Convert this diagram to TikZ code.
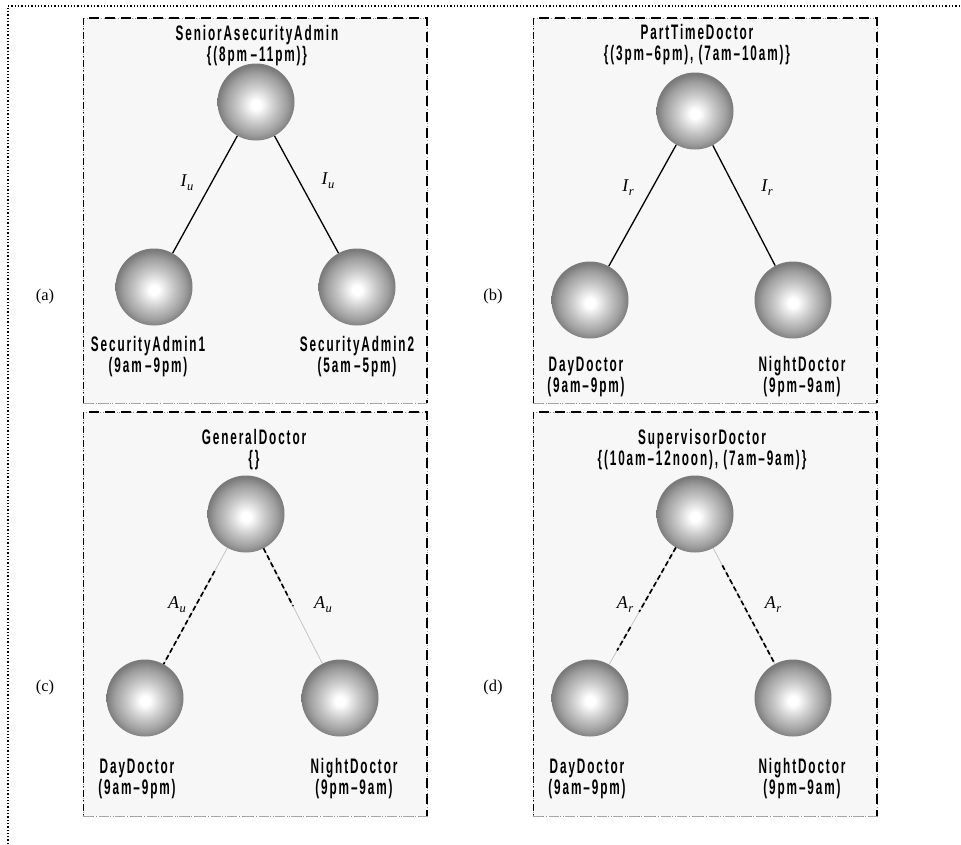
\documentclass[tikz,border=0pt]{standalone}
\usepackage{fontspec}
\usetikzlibrary{calc}
\newfontfamily\lblfont{Liberation Sans Bold}[FakeStretch=0.56,LetterSpace=9]
\newfontfamily\serifface{Liberation Serif}
\definecolor{panelbg}{HTML}{F7F7F7}
\pgfdeclareradialshading{spheregrad}{\pgfpoint{0bp}{-2bp}}{%
  color(0bp)=(white); color(3bp)=(white); color(12bp)=(black!21);
  color(20bp)=(black!38); color(25bp)=(black!52); color(50bp)=(black!52)}
\tikzset{
  sphere/.style={circle, minimum size=77pt, inner sep=0pt, shading=spheregrad},
  nametext/.style={font=\lblfont\fontsize{21}{21}\selectfont, align=center, inner sep=0pt},
  edgetext/.style={font=\serifface\itshape\fontsize{18}{18}\selectfont, inner sep=0pt},
  tagtext/.style={font=\serifface\fontsize{16.5}{16.5}\selectfont, inner sep=0pt},
  solidlink/.style={line width=1.3pt},
  faintlink/.style={draw=black!25, line width=0.7pt},
  dashlink/.style={line width=1.7pt, dash pattern=on 5pt off 3pt},
}
% framed panel: left x, top y, right x, bottom y
\newcommand\panelframe[4]{%
  \fill[panelbg] (#1,#2) rectangle (#3,#4);
  \draw[black!45, line width=0.8pt, dotted] (#1,#2) rectangle (#3,#4);
  \draw[line width=1.6pt, dash pattern=on 10pt off 6pt] (#1+6,#2) -- (#3,#2) -- (#3,#4);
  \draw[line width=0.9pt, dash pattern=on 7pt off 3pt on 1pt off 3pt] (#1,#2) -- (#1,#4);
  \draw[black!35, line width=1pt, dash pattern=on 10pt off 6pt] (#1,#4) -- (#3,#4);
}
\newcommand\sublbl[2]{#1\kern0.5pt\raisebox{-4pt}{\fontsize{12.5}{12.5}\selectfont #2}}
\begin{document}
\begin{tikzpicture}[x=1pt,y=-1pt]
\useasboundingbox (0,0) rectangle (961,844);
\fill[white] (0,0) rectangle (961,844);
% outer frame
\draw[dotted, line width=1.3pt] (8,844) -- (8,6) -- (961,6);

% panels
\panelframe{83}{18}{427}{403}
\panelframe{533}{18}{877}{403}
\panelframe{83}{412}{427}{816}
\panelframe{533}{412}{877}{816}

% panel tags
\node[tagtext] (taga) at (45,297) {(a)};
\node[tagtext] (tagb) at (493,297) {(b)};
\node[tagtext] (tagc) at (45,688) {(c)};
\node[tagtext] (tagd) at (493,688) {(d)};

% (a)
\node[sphere] (ta) at (256,102) {};
\node[sphere] (la) at (154,287) {};
\node[sphere] (ra) at (357,287) {};
\node[nametext] (tta) at (257,46) {SeniorAsecurityAdmin\\\{(8pm\,–11pm)\}};
\node[nametext] (lta) at (148,357) {SecurityAdmin1\\(9am\,–9pm)};
\node[nametext] (rta) at (357,357) {SecurityAdmin2\\(5am\,–5pm)};
\draw[solidlink] (ta) -- (la);
\draw[solidlink] (ta) -- (ra);
\node[edgetext] (ea1) at (187,183) {\sublbl{I}{u}};
\node[edgetext] (ea2) at (328,181) {\sublbl{I}{u}};

% (b)
\node[sphere] (tb) at (695,111) {};
\node[sphere] (lb) at (590,300) {};
\node[sphere] (rb) at (793,300) {};
\node[nametext] (ttb) at (697,45) {PartTimeDoctor\\\{(3pm–6pm), (7am–10am)\}};
\node[nametext] (ltb) at (586,377) {DayDoctor\\(9am–9pm)};
\node[nametext] (rtb) at (802,377) {NightDoctor\\(9pm–9am)};
\draw[solidlink] (tb) -- (lb);
\draw[solidlink] (tb) -- (rb);
\node[edgetext] (eb1) at (628,188) {\sublbl{I}{r}};
\node[edgetext] (eb2) at (767,188) {\sublbl{I}{r}};

% (c)
\node[sphere] (tc) at (246,514) {};
\node[sphere] (lc) at (145,698) {};
\node[sphere] (rc) at (340,698) {};
\node[nametext] (ttc) at (254,450) {GeneralDoctor\\\{\}};
\node[nametext] (ltc) at (137,779) {DayDoctor\\(9am–9pm)};
\node[nametext] (rtc) at (354,779) {NightDoctor\\(9pm–9am)};
\coordinate (c1s) at ($(tc)!38.5pt!(lc)$);
\coordinate (c1e) at ($(lc)!38.5pt!(tc)$);
\coordinate (c2s) at ($(tc)!38.5pt!(rc)$);
\coordinate (c2e) at ($(rc)!38.5pt!(tc)$);
\draw[faintlink] (c1s) -- (c1e);
\draw[faintlink] (c2s) -- (c2e);
\draw[dashlink] ($(c1s)!0.2!(c1e)$) -- (c1e);
\draw[dashlink] (c2s) -- ($(c2s)!0.5!(c2e)$);
\node[edgetext] (ec1) at (177,605) {\sublbl{A}{u}};
\node[edgetext] (ec2) at (323,605) {\sublbl{A}{u}};

% (d)
\node[sphere] (td) at (695,514) {};
\node[sphere] (ld) at (590,698) {};
\node[sphere] (rd) at (793,698) {};
\node[nametext] (ttd) at (702,450) {SupervisorDoctor\\\{(10am–12noon), (7am–9am)\}};
\node[nametext] (ltd) at (587,779) {DayDoctor\\(9am–9pm)};
\node[nametext] (rtd) at (802,779) {NightDoctor\\(9pm–9am)};
\coordinate (d1s) at ($(td)!38.5pt!(ld)$);
\coordinate (d1e) at ($(ld)!38.5pt!(td)$);
\coordinate (d2s) at ($(td)!38.5pt!(rd)$);
\coordinate (d2e) at ($(rd)!38.5pt!(td)$);
\draw[faintlink] (d1s) -- (d1e);
\draw[faintlink] (d2s) -- (d2e);
\draw[dashlink] (d1s) -- ($(d1s)!0.55!(d1e)$);
\draw[dashlink] ($(d1s)!0.68!(d1e)$) -- ($(d1s)!0.88!(d1e)$);
\draw[dashlink] ($(d2s)!0.15!(d2e)$) -- (d2e);
\node[edgetext] (ed1) at (625,605) {\sublbl{A}{r}};
\node[edgetext] (ed2) at (773,605) {\sublbl{A}{r}};
\end{tikzpicture}
\end{document}
